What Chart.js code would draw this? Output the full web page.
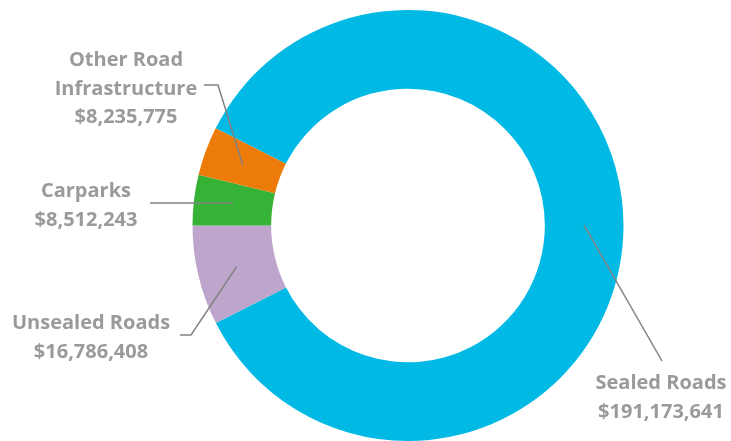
<!DOCTYPE html>
<html>
<head>
<meta charset="utf-8">
<script src="https://cdn.jsdelivr.net/npm/chart.js@4"></script>
<style>
  html, body { margin: 0; padding: 0; background: #fff; }
  canvas { display: block; }
</style>
</head>
<body>
<canvas id="chart-canvas" width="731" height="441"></canvas>
<script>
const categories = ["Sealed Roads", "Unsealed Roads", "Carparks", "Other Road Infrastructure"];
const values = [191173641, 16786408, 8512243, 8235775];
const sliceColors = ["#00b9e4", "#bea5cb", "#36b236", "#ec7b0a"];

// where each label sits: text centre x, first baseline y, text lines,
// and the leader line points leading into the slice
const labelLayout = [
  { x: 661, y: 389, lines: ["Sealed Roads"], leader: [[662, 361]] },
  { x: 91, y: 329, lines: ["Unsealed Roads"], leader: [[180, 335], [191, 335]] },
  { x: 86, y: 197, lines: ["Carparks"], leader: [[150, 203]] },
  { x: 126, y: 66, lines: ["Other Road", "Infrastructure"], leader: [[204, 85], [218, 85]] },
];

const LINE_H = 28.5;
const TEXT_COLOR = "#9a9a9a";
const LEADER_COLOR = "#828282";

function money(v) {
  return "$" + v.toLocaleString("en-US");
}

const labelPlugin = {
  id: "sliceLabels",
  afterDatasetsDraw(chart) {
    const ctx = chart.ctx;
    const arcs = chart.getDatasetMeta(0).data;
    ctx.save();
    arcs.forEach((arc, i) => {
      const lay = labelLayout[i];
      const tip = arc.tooltipPosition();
      ctx.strokeStyle = LEADER_COLOR;
      ctx.lineWidth = 1.5;
      ctx.beginPath();
      ctx.moveTo(lay.leader[0][0], lay.leader[0][1]);
      lay.leader.slice(1).forEach((p) => ctx.lineTo(p[0], p[1]));
      // carparks leader runs straight across
      ctx.lineTo(tip.x, i === 2 ? lay.leader[0][1] : tip.y);
      ctx.stroke();

      ctx.fillStyle = TEXT_COLOR;
      ctx.font = "bold 20px 'Open Sans', sans-serif";
      ctx.textAlign = "center";
      ctx.textBaseline = "alphabetic";
      const lines = lay.lines.concat([money(values[i])]);
      lines.forEach((t, k) => ctx.fillText(t, lay.x, lay.y + k * LINE_H));
    });
    ctx.restore();
  },
};

const ctx = document.getElementById("chart-canvas").getContext("2d");
new Chart(ctx, {
  type: "doughnut",
  data: {
    labels: categories,
    datasets: [
      {
        data: values,
        backgroundColor: sliceColors,
        borderWidth: 0,
      },
    ],
  },
  options: {
    responsive: false,
    animation: false,
    cutout: "63.5%",
    rotation: -63.2,
    layout: {
      padding: { left: 192, right: 107, top: 10, bottom: 0 },
    },
    events: [],
    plugins: {
      legend: { display: false },
      tooltip: { enabled: false },
    },
  },
  plugins: [labelPlugin],
});
</script>
</body>
</html>
